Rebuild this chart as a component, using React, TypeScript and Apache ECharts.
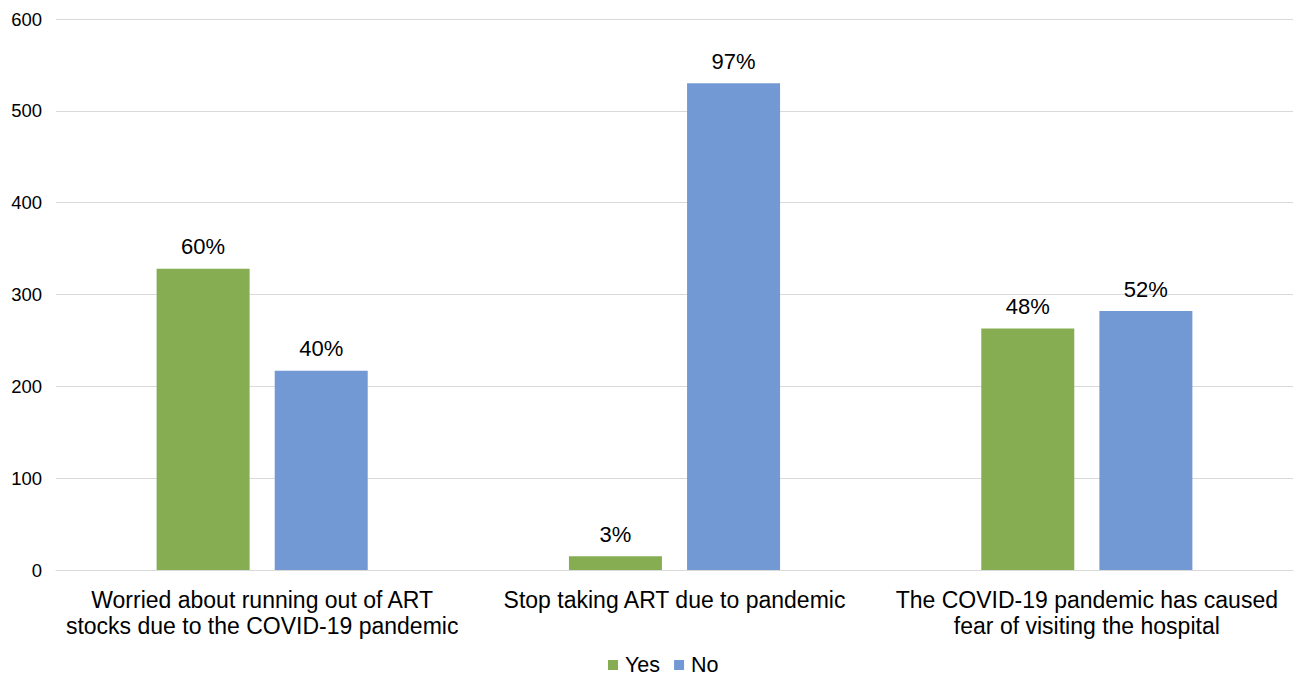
import React, { useEffect, useRef } from "react";
import * as echarts from "echarts";

const categories = [
  "Worried about running out of ART\nstocks due to the COVID-19 pandemic",
  "Stop taking ART due to pandemic",
  "The COVID-19 pandemic has caused\nfear of visiting the hospital",
];
const yesValues = [328, 15, 263];
const noValues = [217, 530, 282];
const yesPct = ["60%", "3%", "48%"];
const noPct = ["40%", "97%", "52%"];
const yTicks = { min: 0, max: 600, interval: 100 };

const FONT = "Liberation Sans, Arial, sans-serif";

export default function App() {
  const ref = useRef<HTMLDivElement>(null);
  useEffect(() => {
    document.body.style.margin = "0";
    const chart = echarts.init(ref.current!, null, { renderer: "svg" });
    chart.setOption({
      animation: false,
      textStyle: { fontFamily: FONT },
      grid: { left: 56, right: 1, top: 19, bottom: 107, containLabel: false },
      legend: {
        top: 654,
        left: 608,
        padding: 0,
        itemWidth: 10,
        itemHeight: 10,
        itemGap: 14,
        textStyle: {
          fontSize: 21.5,
          lineHeight: 18,
          color: "#000",
          fontFamily: FONT,
          padding: [0, 0, 0, 2],
        },
        data: [
          { name: "Yes", icon: "rect" },
          { name: "No", icon: "rect" },
        ],
      },
      xAxis: {
        type: "category",
        data: categories,
        axisTick: { show: false },
        axisLine: { lineStyle: { color: "#D9D9D9", width: 1 } },
        axisLabel: {
          fontSize: 23,
          color: "#000",
          lineHeight: 26,
          margin: 17,
          fontFamily: FONT,
          interval: 0,
        },
      },
      yAxis: {
        type: "value",
        min: yTicks.min,
        max: yTicks.max,
        interval: yTicks.interval,
        axisLine: { show: false },
        axisTick: { show: false },
        splitLine: { lineStyle: { color: "#D9D9D9", width: 1 } },
        axisLabel: { fontSize: 18.5, color: "#000", margin: 14, fontFamily: FONT },
      },
      series: [
        {
          name: "Yes",
          type: "bar",
          data: yesValues,
          barWidth: 93,
          barGap: "27%",
          itemStyle: { color: "#86AD52" },
          label: {
            show: true,
            position: "top",
            distance: 11,
            fontSize: 22,
            color: "#000",
            fontFamily: FONT,
            formatter: (p: any) => yesPct[p.dataIndex],
          },
        },
        {
          name: "No",
          type: "bar",
          data: noValues,
          barWidth: 93,
          itemStyle: { color: "#7399D4" },
          label: {
            show: true,
            position: "top",
            distance: 11,
            fontSize: 22,
            color: "#000",
            fontFamily: FONT,
            formatter: (p: any) => noPct[p.dataIndex],
          },
        },
      ],
    });
    return () => chart.dispose();
  }, []);
  return <div ref={ref} style={{ width: 1294, height: 677 }} />;
}
